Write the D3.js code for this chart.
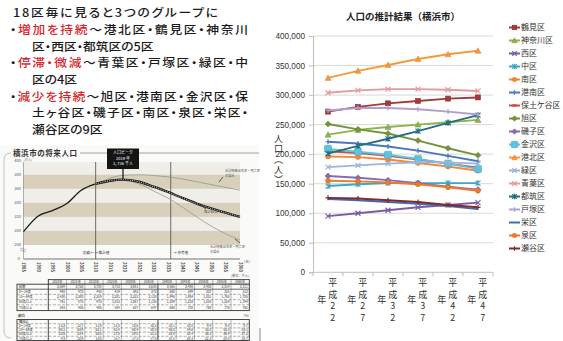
<!DOCTYPE html>
<html><head><meta charset="utf-8">
<script src="https://cdn.jsdelivr.net/npm/d3@7"></script>
<style>
html,body{margin:0;padding:0;background:#fff;}
svg{display:block;font-family:"Noto Sans CJK JP","Noto Sans",sans-serif;}
</style></head><body>
<svg id="c" width="563" height="341"></svg>
<script>
// ================= DATA =================
// Right chart: 横浜市 区別人口推計
const yearLabels = ["平成22年","平成27年","平成32年","平成37年","平成42年","平成47年"];
const yTickValues = [0,50000,100000,150000,200000,250000,300000,350000,400000];
const wards = ["鶴見区","神奈川区","西区","中区","南区","港南区","保土ケ谷区","旭区","磯子区","金沢区","港北区","緑区","青葉区","都筑区","戸塚区","栄区","泉区","瀬谷区"];
const tsurumi   = [272000,280000,286000,290000,294000,296000];
const kanagawa  = [233000,241000,246000,250000,254000,258000];
const nishi     = [95000,100000,105000,110000,114000,118000];
const naka      = [146000,149000,151000,151000,151000,151000];
const minami    = [196000,195000,191000,185000,179000,172000];
const konan     = [221000,218000,213000,206000,197000,188000];
const hodogaya  = [205000,202000,197000,191000,184000,177000];
const asahi     = [251000,242000,235000,223000,210000,198000];
const isogo     = [163000,160000,156000,151000,145000,140000];
const kanazawa  = [209000,204000,199000,192000,184000,175000];
const kohoku    = [329000,341000,351000,361000,369000,375000];
const midori    = [178000,181000,184000,186000,186000,184000];
const aoba      = [304000,308000,310000,310000,309000,307000];
const tsuzuki   = [201000,214000,226000,239000,253000,266000];
const totsuka   = [274000,278000,278000,276000,272000,267000];
const sakae     = [124000,122000,119000,116000,112000,107000];
const izumi     = [155000,154000,152000,149000,144000,138000];
const seya      = [126000,125000,122000,119000,114000,110000];
const wardValues = [tsurumi,kanagawa,nishi,naka,minami,konan,hodogaya,asahi,isogo,kanazawa,kohoku,midori,aoba,tsuzuki,totsuka,sakae,izumi,seya];

// Left text
const introLines = [
  "18区毎に見ると3つのグループに",
  "・増加を持続～港北区・鶴見区・神奈川",
  "区・西区・都筑区の5区",
  "・停滞・微減～青葉区・戸塚区・緑区・中",
  "区の4区",
  "・減少を持続～旭区・港南区・金沢区・保",
  "土ヶ谷区・磯子区・南区・泉区・栄区・",
  "瀬谷区の9区"
];
const redPhrases = ["増加を持続","停滞・微減","減少を持続"];

// Embedded picture: 横浜市の将来人口 (万人)
const histYears = [1985,1990,1995,2000,2005,2010];
const histPop   = [299,321,329,339,358,367];
const projYears = [2010,2015,2019,2025,2030,2035,2040,2045,2050,2055,2060];
const projMid   = [367,371.5,373,370,363,355.5,347,339,332,326,320];
const projHigh  = [367,375,379,380,379,377,374,370,366,362,358];
const projLow   = [367,371,372,367,357,347,334,320,307,296,287];
const smallYTicks = [280,300,320,340,360,380,400];
const smallXTicks = [1985,1990,1995,2000,2005,2010,2015,2020,2025,2030,2035,2040,2045,2050,2055,2060];
const bandRanges = [[360,380],[320,340],[280,300]];
const dividerYears = [2010,2036];
const tableYears = ["2010年","2015年","2020年","2025年","2030年","2035年","2040年","2045年","2050年","2055年","2060年"];
const tableTotal = ["3,689","3,726","3,735","3,713","3,681","3,635","3,565","3,486","3,403","3,314","3,211"];
const tableRowLabels = ["0～14歳","15～64歳","65歳以上","75歳以上"];
const tableRows = [
  ["490","473","443","419","392","372","360","349","337","325","312"],
  ["2,438","2,380","2,319","2,281","2,222","2,128","1,996","1,904","1,831","1,765","1,705"],
  ["761","873","973","1,013","1,067","1,135","1,209","1,233","1,235","1,224","1,194"],
  ["343","406","486","584","637","647","660","708","760","776","762"]
];
const pctRows = [
  ["13.3","12.7","11.9","11.3","10.6","10.2","10.1","10.0","9.9","9.8","9.7"],
  ["66.1","63.9","62.1","61.4","60.4","58.5","56.0","54.6","53.8","53.3","53.1"],
  ["20.6","23.4","26.0","27.3","29.0","31.2","33.9","35.4","36.3","36.9","37.2"],
  ["9.3","10.9","13.0","15.7","17.3","17.8","18.5","20.3","22.3","23.4","23.7"]
];

// ================= STYLE =================
const seriesStyle = [
  {c:"#a23a3a",m:"square"},{c:"#8cb44a",m:"triangle"},{c:"#7a5ca6",m:"x"},{c:"#3fa6bf",m:"star"},
  {c:"#f0893a",m:"circle"},{c:"#4a77bb",m:"plus"},{c:"#c8504c",m:"dash"},{c:"#75933a",m:"diamond"},
  {c:"#8a6bb0",m:"diamond"},{c:"#5ec4de",m:"bigsquare"},{c:"#f59a3c",m:"triangle"},{c:"#9ab4dc",m:"x"},
  {c:"#e29c9c",m:"x"},{c:"#246e80",m:"star"},{c:"#b09fcc",m:"plus"},{c:"#3f6db4",m:"none"},
  {c:"#ee7a2c",m:"circle"},{c:"#7d2b2b",m:"plus"}
];
const svg = d3.select("#c");
const RED = "#d8262c";

// ================= LEFT TEXT =================
const introX = [13,10,32,10,32,10,32,32];
const introW = [205,238,null,238,null,238,216,null];
const stretch = 1.12;
introLines.forEach((line,i)=>{
  const g = svg.append("g").attr("transform",`translate(${introX[i]},${13+16.7*i+4.2}) scale(${stretch},1)`);
  const t = g.append("text").attr("x",0).attr("y",0)
    .attr("font-size",11.4).attr("font-weight",500).attr("fill","#1b1b1b")
    .style("font-feature-settings",'"palt"');
  if(introW[i]) t.attr("textLength",introW[i]/stretch).attr("lengthAdjust","spacing");
  const rp = redPhrases.find(p=>line.includes(p));
  if(rp){
    const k=line.indexOf(rp);
    t.append("tspan").text(line.slice(0,k));
    t.append("tspan").attr("fill",RED).text(rp);
    t.append("tspan").text(line.slice(k+rp.length));
  } else t.text(line);
});

// ================= EMBEDDED PICTURE =================
const pic = svg.append("g");
pic.append("rect").attr("x",0).attr("y",145).attr("width",259).attr("height",196).attr("fill","#fafaf8");
pic.append("path").attr("d","M11,153 Q4,153 4,160 L4,331 Q4,338 11,338").attr("fill","none").attr("stroke","#b5b5b5").attr("stroke-width",0.8);
pic.append("line").attr("x1",80).attr("x2",259).attr("y1",153).attr("y2",153).attr("stroke","#8a8a8a").attr("stroke-width",0.8);
pic.append("text").attr("x",13).attr("y",155.5).attr("font-size",7.5).attr("font-weight","bold").attr("fill","#333")
  .attr("textLength",64).attr("lengthAdjust","spacing").text("横浜市の将来人口");
pic.append("line").attr("x1",260).attr("x2",260).attr("y1",328).attr("y2",341).attr("stroke","#666").attr("stroke-width",0.8);

const sx = d3.scaleLinear().domain([1985,2060]).range([23.5,240]);
const sy = d3.scaleLinear().domain([280,400]).range([245,160.7]);
pic.append("rect").attr("x",sx(1985)).attr("y",162).attr("width",sx(2060)-sx(1985)).attr("height",sy(280)-162).attr("fill","#efeee9");
pic.selectAll(".band").data(bandRanges).join("rect")
  .attr("x",sx(1985)).attr("width",sx(2060)-sx(1985))
  .attr("y",d=>sy(d[1])).attr("height",d=>sy(d[0])-sy(d[1])).attr("fill","#d9d0bb");
pic.selectAll(".syl").data(smallYTicks).join("text").attr("x",21).attr("y",d=>sy(d)+1.3)
  .attr("text-anchor","end").attr("font-size",4).attr("fill","#555").text(d=>d);
pic.append("text").attr("x",20).attr("y",260.3).attr("text-anchor","end").attr("font-size",4).attr("fill","#555").text("0");
pic.append("text").attr("x",24).attr("y",161).attr("font-size",3).attr("fill","#666").text("(万人)");
pic.append("path").attr("d","M20,249 q1.5,-1.5 3,0 t3,0 M20,251 q1.5,-1.5 3,0 t3,0").attr("fill","none").attr("stroke","#777").attr("stroke-width",0.5);
pic.append("line").attr("x1",sx(1985)).attr("x2",sx(2060)).attr("y1",259).attr("y2",259).attr("stroke","#333").attr("stroke-width",0.7);
pic.append("line").attr("x1",sx(1985)).attr("x2",sx(1985)).attr("y1",162).attr("y2",259).attr("stroke","#666").attr("stroke-width",0.5);
pic.selectAll(".sxl").data(smallXTicks).join("text")
  .attr("transform",d=>`translate(${sx(d)-1.3},267) rotate(90)`)
  .attr("text-anchor","middle").attr("font-size",4.2).attr("font-weight","bold").attr("fill","#444").text(d=>d);
pic.append("text").attr("x",244).attr("y",263).attr("font-size",3.5).attr("fill","#555").text("(年)");
pic.selectAll(".div").data(dividerYears).join("line")
  .attr("x1",d=>sx(d)).attr("x2",d=>sx(d)).attr("y1",162).attr("y2",259).attr("stroke","#4a4a4a").attr("stroke-width",0.8);
pic.append("text").attr("x",96).attr("y",253.5).attr("text-anchor","middle").attr("font-size",3.6).attr("fill","#333").text("実績 ←→ 推計値");
pic.append("text").attr("x",173).attr("y",253.5).attr("font-size",3.6).attr("fill","#333").text("→ 参考値");
const lineGen = d3.line().curve(d3.curveMonotoneX);
const pts = (xs,ys)=>xs.map((v,i)=>[sx(v),sy(ys[i])]);
pic.append("path").attr("d",lineGen(pts(projYears,projHigh))).attr("fill","none").attr("stroke","#8c8c86").attr("stroke-width",0.7);
pic.append("path").attr("d",lineGen(pts(projYears,projLow))).attr("fill","none").attr("stroke","#8c8c86").attr("stroke-width",0.7);
pic.append("path").attr("d",lineGen(pts(histYears,histPop))).attr("fill","none").attr("stroke","#1a1a1a").attr("stroke-width",1.3);
pic.append("path").attr("d",lineGen(pts(projYears,projMid))).attr("fill","none").attr("stroke","#1a1a1a").attr("stroke-width",2.4);
pic.append("path").attr("d",lineGen(pts(projYears,projMid))).attr("fill","none").attr("stroke","#f5f5f5").attr("stroke-width",0.9).attr("stroke-dasharray","1,1.3");
pic.append("line").attr("x1",123).attr("x2",123).attr("y1",169).attr("y2",sy(373.6)).attr("stroke","#111").attr("stroke-width",1.2);
pic.append("rect").attr("x",107).attr("y",148.5).attr("width",32).attr("height",20.5).attr("fill","#141414");
[["人口ピーク",154],["2019 年",159.5],["3, 736 千人",165]].forEach(d=>{
  pic.append("text").attr("x",123).attr("y",d[1]).attr("text-anchor","middle").attr("font-size",4).attr("fill","#fff").text(d[0]);
});
pic.append("text").attr("x",225).attr("y",172).attr("font-size",3.2).attr("fill","#555").text("合計特殊出生率・死亡率");
pic.append("text").attr("x",225).attr("y",176.5).attr("font-size",3.2).attr("fill","#555").text("の場合");
pic.append("line").attr("x1",223).attr("y1",177).attr("x2",219).attr("y2",182).attr("stroke","#222").attr("stroke-width",0.7);
pic.append("text").attr("x",204).attr("y",213).attr("font-size",3.4).attr("fill","#555").text("推計結果");
pic.append("line").attr("x1",206).attr("y1",209).attr("x2",199).attr("y2",204).attr("stroke","#222").attr("stroke-width",0.7);
pic.append("text").attr("x",210).attr("y",248).attr("font-size",3.2).attr("fill","#555").text("合計特殊出生率・死亡率");
pic.append("text").attr("x",210).attr("y",252.5).attr("font-size",3.2).attr("fill","#555").text("の場合");
pic.append("line").attr("x1",240).attr("y1",243).attr("x2",235).attr("y2",239).attr("stroke","#222").attr("stroke-width",0.7);

// tables
const tx0 = 17, tcol0 = 48.3, tx1 = 249.3;
const cw = (tx1-tcol0)/tableYears.length;
pic.append("text").attr("x",249).attr("y",277).attr("text-anchor","end").attr("font-size",3.2).attr("fill","#555").text("(単位：千人)");
const T = pic.append("g");
function drawTable(top, rowHs, labels, rows, headerRow){
  let yy = top;
  const totalH = d3.sum(rowHs);
  T.append("rect").attr("x",tx0).attr("y",top).attr("width",tx1-tx0).attr("height",totalH).attr("fill","#fbfbfa").attr("stroke","#333").attr("stroke-width",0.9);
  rowHs.forEach((h,ri)=>{
    if(ri>0) T.append("line").attr("x1",tx0).attr("x2",tx1).attr("y1",yy).attr("y2",yy)
      .attr("stroke","#444").attr("stroke-width",ri===1&&headerRow?0.8:0.4).attr("stroke-dasharray",ri===1&&headerRow?null:"3,1.5");
    T.append("text").attr("x",tx0+2).attr("y",yy+h/2+1.2).attr("font-size",3.2).attr("fill","#333").text(labels[ri]);
    rows[ri].forEach((v,ci)=>{
      T.append("text").attr("x",tcol0+cw*(ci+1)-1.5).attr("y",yy+h/2+1.2).attr("text-anchor","end").attr("font-size",3.2).attr("fill","#333").text(v);
    });
    yy += h;
  });
  tableYears.forEach((d,ci)=>{
    T.append("line").attr("x1",tcol0+cw*ci).attr("x2",tcol0+cw*ci).attr("y1",top).attr("y2",top+totalH)
      .attr("stroke","#333").attr("stroke-width",ci===0||ci===6?0.9:0.35);
  });
}
T.append("rect").attr("x",tcol0).attr("y",279.5).attr("width",tx1-tcol0).attr("height",4.7).attr("fill","#f4f4f2").attr("stroke","#333").attr("stroke-width",0.8);
tableYears.forEach((d,ci)=>{
  T.append("line").attr("x1",tcol0+cw*ci).attr("x2",tcol0+cw*ci).attr("y1",279.5).attr("y2",284.2).attr("stroke","#333").attr("stroke-width",0.35);
  T.append("text").attr("x",tcol0+cw*(ci+0.5)).attr("y",283.1).attr("text-anchor","middle").attr("font-size",3.2).attr("fill","#333").text(d);
});
drawTable(284.2,[5,5.2,5.2,5.2,5.8],["総数"].concat(tableRowLabels),[tableTotal].concat(tableRows),true);
pic.append("text").attr("x",18).attr("y",317).attr("font-size",3.6).attr("font-weight","bold").attr("fill","#333").text("割合");
pic.append("text").attr("x",249).attr("y",317).attr("text-anchor","end").attr("font-size",3.4).attr("fill","#555").text("(%)");
drawTable(319.5,[4.2,4.2,4.2,4.2,4.2],["構成比"].concat(tableRowLabels),[pctRows[0].map(()=>"")].concat(pctRows),false);

// ================= RIGHT CHART =================
const x = d3.scaleBand().domain(yearLabels).range([313,493]);
const y = d3.scaleLinear().domain([0,400000]).range([272.3,36]);
const cx = d=>x(d)+x.bandwidth()/2;
const R = svg.append("g");
R.selectAll(".grid").data(yTickValues.filter(d=>d>0)).join("line")
  .attr("x1",313).attr("x2",493).attr("y1",d=>y(d)).attr("y2",d=>y(d)).attr("stroke","#d9d9d9").attr("stroke-width",1);
const yAxis = R.append("g").attr("transform","translate(313,0)")
  .call(d3.axisLeft(y).tickValues(yTickValues).tickFormat(d3.format(",")).tickSize(4).tickPadding(4));
yAxis.select(".domain").attr("stroke","#bfbfbf");
yAxis.selectAll(".tick line").attr("stroke","#bfbfbf");
yAxis.selectAll("text").attr("font-family","'Liberation Sans',Arial,sans-serif").attr("font-size",8.2).attr("fill","#333");
R.append("line").attr("x1",313).attr("x2",493).attr("y1",y(0)).attr("y2",y(0)).attr("stroke","#bfbfbf");
R.selectAll(".xt").data(d3.range(yearLabels.length+1)).join("line")
  .attr("x1",i=>313+x.step()*i).attr("x2",i=>313+x.step()*i).attr("y1",y(0)).attr("y2",y(0)+4).attr("stroke","#bfbfbf");
yearLabels.forEach(lbl=>{
  const c = cx(lbl);
  const main = lbl.slice(0,4), nen = lbl.slice(4);
  main.split("").forEach((ch,k)=>{
    R.append("text").attr("x",c+4.7).attr("y",283+k*11.6+3.2).attr("text-anchor","middle")
      .attr("font-size",9).attr("fill","#333").text(ch);
  });
  R.append("text").attr("x",c-6.3).attr("y",300+3.2).attr("text-anchor","middle").attr("font-size",9).attr("fill","#333").text(nen);
});
R.append("text").attr("x",278.5).attr("y",134).attr("font-size",9).attr("fill","#333")
  .style("writing-mode","vertical-rl").style("text-orientation","upright").style("letter-spacing","1.3px")
  .text("人口（人）");
R.append("text").attr("x",403).attr("y",19.5).attr("text-anchor","middle").attr("font-size",9.5).attr("font-weight","bold")
  .attr("fill","#222").text("人口の推計結果（横浜市）");

function drawMarker(g, type, px, py, color, s){
  s = s||5;
  const h=s/2;
  const stroke = d3.color(color).darker(0.4).formatHex();
  switch(type){
    case "square": g.append("rect").attr("x",px-h).attr("y",py-h).attr("width",s).attr("height",s).attr("fill",color).attr("stroke",stroke).attr("stroke-width",0.6); break;
    case "bigsquare": g.append("rect").attr("x",px-h-1).attr("y",py-h-1).attr("width",s+2).attr("height",s+2).attr("rx",1).attr("fill",color).attr("stroke",stroke).attr("stroke-width",0.6); break;
    case "triangle": g.append("path").attr("d",`M${px},${py-h-0.5}L${px+h+0.5},${py+h}L${px-h-0.5},${py+h}Z`).attr("fill",color).attr("stroke",stroke).attr("stroke-width",0.5); break;
    case "diamond": g.append("path").attr("d",`M${px},${py-h-0.5}L${px+h+0.5},${py}L${px},${py+h+0.5}L${px-h-0.5},${py}Z`).attr("fill",color).attr("stroke",stroke).attr("stroke-width",0.5); break;
    case "circle": g.append("circle").attr("cx",px).attr("cy",py).attr("r",h).attr("fill",color).attr("stroke",stroke).attr("stroke-width",0.5); break;
    case "x": g.append("path").attr("d",`M${px-h},${py-h}L${px+h},${py+h}M${px-h},${py+h}L${px+h},${py-h}`).attr("stroke",color).attr("stroke-width",1.2); break;
    case "star": g.append("path").attr("d",`M${px-h},${py-h}L${px+h},${py+h}M${px-h},${py+h}L${px+h},${py-h}M${px},${py-h-0.5}L${px},${py+h+0.5}`).attr("stroke",color).attr("stroke-width",1.1); break;
    case "plus": g.append("path").attr("d",`M${px-h},${py}L${px+h},${py}M${px},${py-h}L${px},${py+h}`).attr("stroke",color).attr("stroke-width",1.2); break;
    case "dash": g.append("path").attr("d",`M${px-h},${py}L${px+h},${py}`).attr("stroke",color).attr("stroke-width",2.4); break;
  }
}
const line = d3.line().x((d,i)=>cx(yearLabels[i])).y(d=>y(d));
wards.forEach((w,si)=>{
  const st = seriesStyle[si];
  const g = R.append("g");
  g.append("path").attr("d",line(wardValues[si])).attr("fill","none").attr("stroke",st.c).attr("stroke-width",1.9);
  wardValues[si].forEach((v,i)=>drawMarker(g, st.m, cx(yearLabels[i]), y(v), st.c, 5));
});
wards.forEach((w,si)=>{
  const st = seriesStyle[si];
  const ly = 27.5+13*si;
  const g = R.append("g");
  g.append("line").attr("x1",509).attr("x2",520).attr("y1",ly).attr("y2",ly).attr("stroke",st.c).attr("stroke-width",2);
  drawMarker(g, st.m, 514.5, ly, st.c, 4.5);
  g.append("text").attr("x",521).attr("y",ly+2.9).attr("font-size",8).attr("fill","#333")
    .style("font-feature-settings",'"palt"').text(w);
});
</script>
</body></html>
